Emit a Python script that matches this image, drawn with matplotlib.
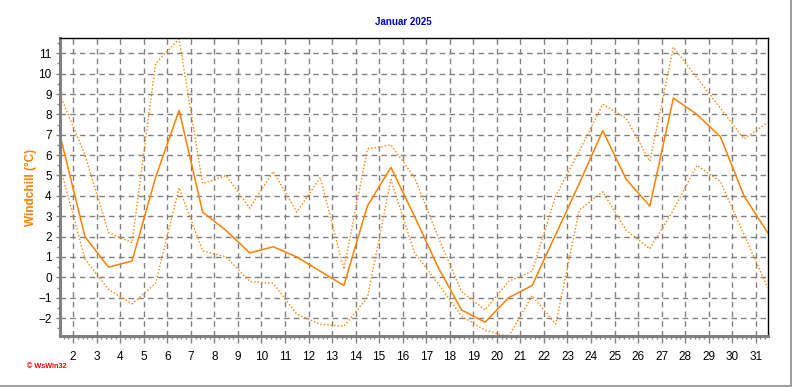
import matplotlib
matplotlib.use("Agg")
import matplotlib.pyplot as plt
from matplotlib.ticker import MultipleLocator, FixedLocator
from matplotlib.lines import Line2D

# ---- data ----
days = [d + 0.5 for d in range(1, 32)]
windchill_avg = [6.7, 2.0, 0.5, 0.8, 4.9, 8.2, 3.2, 2.3, 1.2, 1.5, 1.0, 0.3, -0.4, 3.5, 5.4,
                 3.0, 0.5, -1.6, -2.2, -1.0, -0.4, 2.1, 4.6, 7.2, 4.8, 3.5, 8.8, 8.0, 6.9, 4.0, 2.2]
windchill_max = [8.8, 6.0, 2.2, 1.7, 10.5, 11.7, 4.6, 5.0, 3.4, 5.2, 3.2, 4.9, 0.4, 6.3, 6.5,
                 4.9, 2.0, -0.7, -1.6, -0.2, 0.3, 4.0, 6.2, 8.5, 7.8, 5.7, 11.3, 9.8, 8.3, 6.8, 7.6]
windchill_min = [5.2, 0.9, -0.6, -1.3, -0.3, 4.4, 1.3, 1.0, -0.2, -0.3, -1.8, -2.3, -2.4, -1.0, 4.8,
                 1.2, -0.3, -1.9, -2.6, -2.9, -0.9, -2.3, 3.3, 4.2, 2.3, 1.4, 3.3, 5.5, 4.7, 2.1, -0.5]
x_ticks = list(range(2, 32))
y_ticks = list(range(-2, 12))
title = "Januar 2025"
ylabel = "Windchill (°C)"

orange = "#FF8000"

fig = plt.figure(figsize=(7.92, 3.87), dpi=100)
plt.rcParams['font.family'] = ['Liberation Sans', 'DejaVu Sans']
ax = fig.add_axes([60/792, 1-336/387, (768-60)/792, (336-38)/387])

ax.plot(days, windchill_max, color=orange, lw=1.0, ls=(0, (1, 1.5)))
ax.plot(days, windchill_min, color=orange, lw=1.0, ls=(0, (1, 1.5)))
ax.plot(days, windchill_avg, color=orange, lw=1.1)

ax.set_xlim(1.44, 31.52)
ax.set_ylim(-2.88, 11.75)
ax.xaxis.set_major_locator(FixedLocator(x_ticks))
ax.xaxis.set_minor_locator(MultipleLocator(0.2))
ax.yaxis.set_major_locator(FixedLocator(y_ticks))
ax.yaxis.set_minor_locator(MultipleLocator(0.5))

ax.grid(True, which='major', color='#808080', ls=(0, (4, 3)), lw=1.0)
ax.set_axisbelow(True)

for s in ['left', 'bottom']:
    ax.spines[s].set_color('#808080')
    ax.spines[s].set_linewidth(2.2)
for s in ['top', 'right']:
    ax.spines[s].set_color('black')
    ax.spines[s].set_linewidth(1.0)

ax.tick_params(axis='x', which='major', length=5, width=1, color='#808080', labelsize=8.5, pad=6)
ax.tick_params(axis='x', which='minor', length=2.5, width=1, color='#808080')
ax.tick_params(axis='y', which='major', length=3, width=1, color='#808080', labelsize=8.5, pad=3)
ax.tick_params(axis='y', which='minor', length=2, width=1, color='#808080')

fig.text(403/792, 1-22/387, title, color='#0000CC', fontsize=7, fontweight='bold',
         ha='center', va='center')
ax.set_ylabel(ylabel, color=orange, fontsize=8.5, fontweight='bold', labelpad=1)

fig.text(27/792, 1-367/387, "\u00a9 WsWin32", color='red', fontsize=5.2, fontweight='bold',
         va='center', ha='left')

# figure border (right and bottom)
fig.add_artist(Line2D([790.5/792, 790.5/792], [1-386/387, 1.0], transform=fig.transFigure,
                      color='#A0A0A0', lw=1.5))
fig.add_artist(Line2D([0, 791/792], [1-385.5/387, 1-385.5/387], transform=fig.transFigure,
                      color='#A0A0A0', lw=1.5))

fig.savefig("out.png", dpi=100)
